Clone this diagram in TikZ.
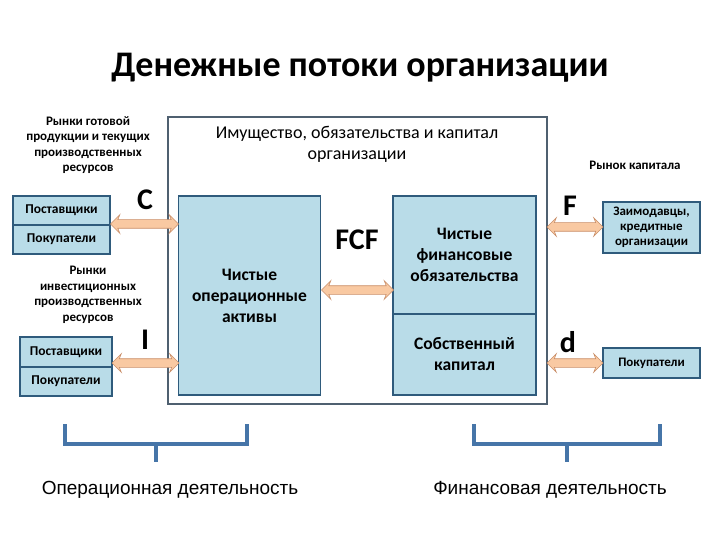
\documentclass[tikz,border=0pt]{standalone}
\usepackage{fontspec}
\setmainfont{Carlito}
\newfontfamily\arialf{Liberation Sans}
\usetikzlibrary{shapes.arrows,calc}
\definecolor{boxfill}{HTML}{B9DCE8}
\definecolor{boxline}{HTML}{2F5B7C}
\definecolor{outline}{HTML}{4F6070}
\definecolor{arrfill}{HTML}{F9C9A2}
\definecolor{arrline}{HTML}{C98F6A}
\definecolor{brace}{HTML}{4675A8}
\begin{document}
\begin{tikzpicture}[x=1pt,y=-1pt,
  bx/.style={draw=boxline,line width=1.6pt,fill=boxfill,inner sep=0pt,align=center},
  lbl/.style={font=\fontsize{13}{15.5}\selectfont\bfseries,align=center,inner sep=0pt},
  big/.style={font=\fontsize{30}{32}\selectfont\bfseries,inner sep=0pt},
  dbl/.style={double arrow,draw=arrline,fill=arrfill,line width=0.6pt,
     double arrow head extend=5pt,double arrow head indent=2pt,inner sep=4pt,minimum width=0pt},
  br/.style={draw=brace,line width=3.5pt}]
\useasboundingbox (0,0) rectangle (720,540);
\node[font=\fontsize{36}{40}\selectfont\bfseries] (title) at (360,68) {Денежные потоки организации};
\draw[draw=outline,line width=1.8pt] (168,117) rectangle (547,404);
\node (outer) at (357,144) [font=\fontsize{18}{21}\selectfont,align=center,inner sep=0pt] {Имущество, обязательства и капитал\\организации};
% inner boxes
\node[bx,minimum width=142pt,minimum height=199pt,font=\fontsize{17.5}{21}\selectfont\bfseries] (noa) at (249.5,295.5) {Чистые\\операционные\\активы};
\node[bx,minimum width=143pt,minimum height=118pt,font=\fontsize{17.5}{21}\selectfont\bfseries] (nfl) at (464.5,255) {Чистые\\финансовые\\обязательства};
\node[bx,minimum width=143pt,minimum height=81pt,font=\fontsize{17.5}{21}\selectfont\bfseries] (eq) at (464.5,354.5) {Собственный\\капитал};
% left
\node[lbl] (m1) at (88,145) {Рынки готовой\\продукции и текущих\\производственных\\ресурсов};
\node[bx,minimum width=97pt,minimum height=29pt,font=\fontsize{13.5}{15}\selectfont\bfseries] (s1) at (61.5,210.5) {Поставщики};
\node[bx,minimum width=97pt,minimum height=29pt,font=\fontsize{13.5}{15}\selectfont\bfseries] (b1) at (61.5,239.5) {Покупатели};
\node[lbl] (m2) at (88,295) {Рынки\\инвестиционных\\производственных\\ресурсов};
\node[bx,minimum width=92pt,minimum height=30pt,font=\fontsize{13.5}{15}\selectfont\bfseries] (s2) at (66,352) {Поставщики};
\node[bx,minimum width=92pt,minimum height=29pt,font=\fontsize{13.5}{15}\selectfont\bfseries] (b2) at (66,381.5) {Покупатели};
% right
\node[lbl] (m3) at (635,165) {Рынок капитала};
\node[bx,minimum width=97pt,minimum height=51pt,font=\fontsize{13}{15}\selectfont\bfseries] (lend) at (651.5,227.5) {Заимодавцы,\\кредитные\\организации};
\node[bx,minimum width=97pt,minimum height=30pt,font=\fontsize{13}{15}\selectfont\bfseries] (buy) at (651.5,363) {Покупатели};
% labels
\node[big] (C) at (145,200) {C};
\node[big] (I) at (145,340) {I};
\node[big] (FCF) at (357,240) {FCF};
\node[big] (F) at (570,206) {F};
\node[big] (d) at (568,342) {d};
% arrows
\node[dbl,minimum height=68pt] (a1) at (144.5,224) {};
\node[dbl,minimum height=67pt] (a2) at (145.5,363) {};
\node[dbl,minimum height=72pt] (a3) at (357.5,290) {};
\node[dbl,minimum height=56pt] (a4) at (575,227) {};
\node[dbl,minimum height=56pt] (a5) at (575,363) {};
% braces
\coordinate (l1) at (65,424); \coordinate (l2) at (247,424);
\draw[br] (l1) -- (65,444) -- (247,444) -- (l2);
\draw[br] (156,444) -- (156,462);
\coordinate (r1) at (474,424); \coordinate (r2) at (660,424);
\draw[br] (r1) -- (474,444) -- (660,444) -- (r2);
\draw[br] (567,444) -- (567,462);
\node[font=\arialf\fontsize{19}{22}\selectfont] (op) at (170,490) {Операционная деятельность};
\node[font=\arialf\fontsize{19}{22}\selectfont] (fin) at (550,490) {Финансовая деятельность};
\end{tikzpicture}
\end{document}
